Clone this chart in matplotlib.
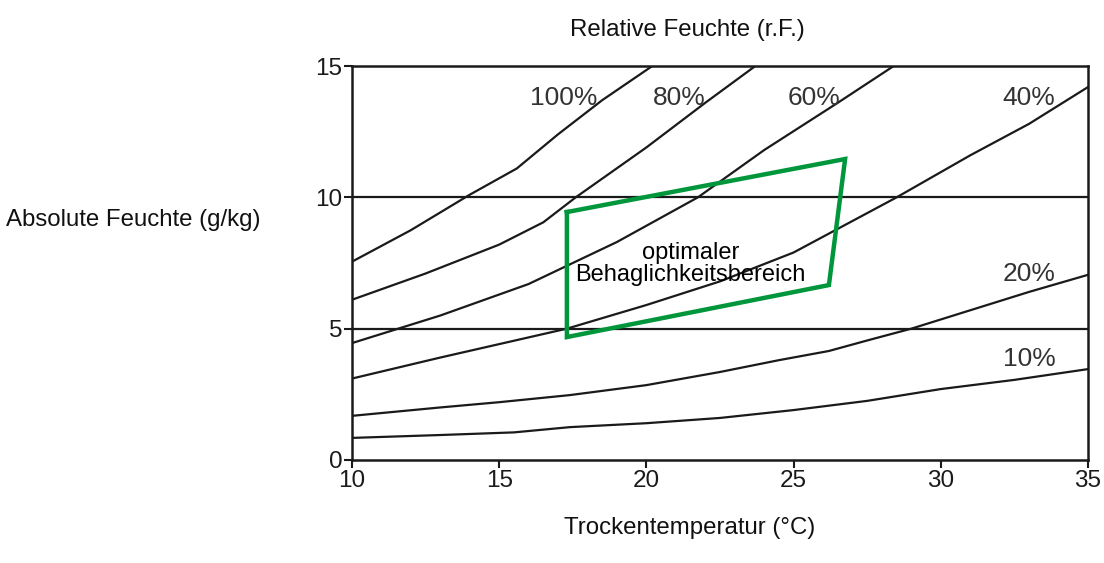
import numpy as np
import matplotlib
matplotlib.use("Agg")
import matplotlib.pyplot as plt

plt.rcParams['font.family'] = ['Liberation Sans', 'DejaVu Sans']

# relative humidity curves: temperature (°C) -> absolute humidity (g/kg)
t_100 = [10, 12, 14, 15.6, 17, 18.5, 20.2]
h_100 = [7.55, 8.75, 10.1, 11.1, 12.4, 13.7, 15.0]
t_80 = [10, 12.5, 15, 16.5, 17.6, 20, 22, 23.7]
h_80 = [6.1, 7.1, 8.2, 9.05, 10.0, 11.9, 13.6, 15.0]
t_60 = [10, 13, 16, 19, 21.75, 24, 26.5, 28.4]
h_60 = [4.45, 5.5, 6.7, 8.3, 10.0, 11.8, 13.6, 15.0]
t_40 = [10, 13, 17.3, 20, 22.5, 25, 27, 28.5, 31, 33, 35]
h_40 = [3.1, 3.9, 5.0, 5.9, 6.8, 7.9, 9.1, 10.0, 11.6, 12.8, 14.2]
t_20 = [10, 13, 15, 17.4, 20, 22.5, 24.5, 26.2, 27.5, 29, 31, 33, 35]
h_20 = [1.68, 2.0, 2.2, 2.47, 2.85, 3.35, 3.8, 4.15, 4.55, 5.0, 5.7, 6.4, 7.05]
t_10 = [10, 13, 15.5, 17.4, 20, 22.5, 25, 27.5, 30, 32.5, 35]
h_10 = [0.84, 0.95, 1.05, 1.25, 1.4, 1.6, 1.9, 2.25, 2.7, 3.05, 3.46]

curves = [(t_100, h_100), (t_80, h_80), (t_60, h_60),
          (t_40, h_40), (t_20, h_20), (t_10, h_10)]

# labels of the curves and where they sit
rf_labels = ['100%', '80%', '60%', '40%', '20%', '10%']
rf_label_x = [17.2, 21.1, 25.7, 33.0, 33.0, 33.0]
rf_label_y = [13.8, 13.8, 13.8, 13.8, 7.1, 3.85]

# comfort zone corners
zone_t = [17.3, 26.75, 26.2, 17.3, 17.3]
zone_h = [9.44, 11.46, 6.66, 4.68, 9.44]

fig = plt.figure(figsize=(11.04, 5.63), dpi=100)
ax = fig.add_axes([0.3188, 0.183, 0.6667, 0.6997])

for t, h in curves:
    ax.plot(t, h, color='#1a1a1a', lw=1.6)

ax.axhline(10, color='#1a1a1a', lw=1.6)
ax.axhline(5, color='#1a1a1a', lw=1.6)

ax.plot(zone_t, zone_h, color='#00963c', lw=3.2, solid_joinstyle='miter')

for lab, x, y in zip(rf_labels, rf_label_x, rf_label_y):
    ax.text(x, y, lab, ha='center', va='center', fontsize=19, color='#333333')

ax.text(21.5, 7.45, 'optimaler\nBehaglichkeitsbereich', ha='center',
        va='center', fontsize=17, color='black', linespacing=1.0)

ax.set_xlim(10, 35)
ax.set_ylim(0, 15)
ax.set_xticks([10, 15, 20, 25, 30, 35])
ax.set_yticks([0, 5, 10, 15])
ax.tick_params(direction='out', length=6, width=1.5, labelsize=17.5,
               colors='#1a1a1a', pad=1)
for s in ax.spines.values():
    s.set_linewidth(1.8)
    s.set_color('#1a1a1a')

fig.text(0.6223, 0.947, 'Relative Feuchte (r.F.)', ha='center', va='center',
         fontsize=17.3, color='#111111')
fig.text(0.625, 0.062, 'Trockentemperatur (°C)', ha='center', va='center',
         fontsize=17.3, color='#111111')
fig.text(0.1205, 0.609, 'Absolute Feuchte (g/kg)', ha='center', va='center',
         fontsize=17.3, color='#111111')

fig.savefig('out.png', dpi=100)
